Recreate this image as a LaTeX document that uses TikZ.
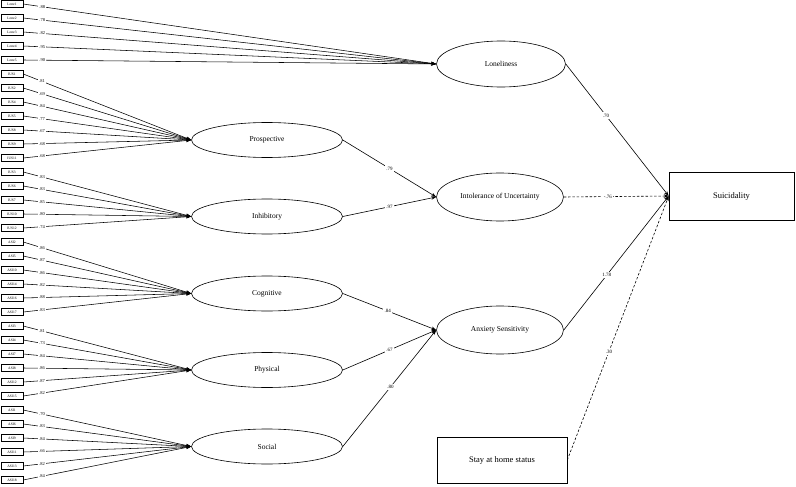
\documentclass[tikz,border=0pt]{standalone}
\usepackage{fontspec}
\setmainfont{Liberation Serif}
\usetikzlibrary{shapes.geometric,arrows.meta}
\tikzset{
  ind/.style={draw, line width=0.5pt, minimum width=22pt, minimum height=7pt, inner sep=0pt, font=\fontsize{3.6}{4}\selectfont},
  lat/.style={draw, ellipse, line width=0.6pt, inner sep=0pt, font=\fontsize{7.5}{9}\selectfont},
  obs/.style={draw, rectangle, line width=0.6pt, inner sep=0pt, font=\fontsize{8.5}{10}\selectfont},
  iline/.style={line width=0.55pt, -{Stealth[length=5pt,width=3.5pt]}},
  sline/.style={line width=0.6pt, -{Stealth[length=5pt,width=3.5pt]}},
  dline/.style={line width=0.6pt, dash pattern=on 2.5pt off 1.8pt, -{Stealth[length=5pt,width=3.5pt]}},
  load/.style={fill=white, inner sep=1pt, font=\fontsize{4.5}{5}\selectfont},
  coef/.style={fill=white, inner sep=1.5pt, font=\fontsize{5}{6}\selectfont}
}
\begin{document}
\begin{tikzpicture}[x=1pt, y=-1pt]
\useasboundingbox (0,0) rectangle (796,487);
% latent variables
\node[lat, minimum width=129pt, minimum height=46pt] (lone) at (501,64) {Loneliness};
\node[lat, minimum width=151pt, minimum height=35pt] (pro) at (267,140) {Prospective};
\node[lat, minimum width=151pt, minimum height=35pt] (inh) at (267,216.5) {Inhibitory};
\node[lat, minimum width=127pt, minimum height=48pt] (iu) at (500,197) {Intolerance of Uncertainty};
\node[lat, minimum width=151pt, minimum height=35pt] (cog) at (267,293.5) {Cognitive};
\node[lat, minimum width=151pt, minimum height=35pt] (phy) at (267,370) {Physical};
\node[lat, minimum width=151pt, minimum height=35pt] (soc) at (267,446.5) {Social};
\node[lat, minimum width=127pt, minimum height=48pt] (as) at (500,330) {Anxiety Sensitivity};
% observed
\node[obs, minimum width=125pt, minimum height=48pt] (sui) at (731.5,196) {Suicidality};
\node[obs, minimum width=130pt, minimum height=46pt] (stay) at (502,460) {Stay at home status};
% indicators of loneliness
\foreach \n/\t/\yy/\l in {L1/Lone1/4/.88, L2/Lone2/18/.78, L3/Lone3/32/.82, L4/Lone4/46/.95, L5/Lone5/60/.90}{
  \node[ind] (\n) at (12,\yy) {\t};
  \draw[iline] (\n.east) -- node[load, pos=0.046] {\l} (lone.west);
}
\foreach \n/\t/\yy/\l in {P1/IUS1/74/.81, P2/IUS2/88/.69, P4/IUS4/102/.84, P5/IUS5/116/.77, P8/IUS8/130/.67, P9/IUS9/144/.68, P11/IUS11/158/.68}{
  \node[ind] (\n) at (12,\yy) {\t};
  \draw[iline] (\n.east) -- node[load, pos=0.112] {\l} (pro.west);
}
\foreach \n/\t/\yy/\l in {I3/IUS3/172/.83, I6/IUS6/186/.83, I7/IUS7/200/.85, I10/IUS10/214/.80, I12/IUS12/228/.74}{
  \node[ind] (\n) at (12,\yy) {\t};
  \draw[iline] (\n.east) -- node[load, pos=0.112] {\l} (inh.west);
}
\foreach \n/\t/\yy/\l in {C2/ASI2/242/.86, C5/ASI5/256/.87, C10/ASI10/270/.86, C14/ASI14/284/.82, C16/ASI16/298/.88, C17/ASI17/312/.83}{
  \node[ind] (\n) at (12,\yy) {\t};
  \draw[iline] (\n.east) -- node[load, pos=0.112] {\l} (cog.west);
}
\foreach \n/\t/\yy/\l in {F3/ASI3/326/.81, F4/ASI4/340/.73, F7/ASI7/354/.84, F8/ASI8/368/.86, F12/ASI12/382/.87, F15/ASI15/396/.82}{
  \node[ind] (\n) at (12,\yy) {\t};
  \draw[iline] (\n.east) -- node[load, pos=0.112] {\l} (phy.west);
}
\foreach \n/\t/\yy/\l in {S1/ASI1/410/.70, S6/ASI6/424/.83, S9/ASI9/438/.84, S11/ASI11/452/.66, S13/ASI13/466/.82, S18/ASI18/480/.84}{
  \node[ind] (\n) at (12,\yy) {\t};
  \draw[iline] (\n.east) -- node[load, pos=0.112] {\l} (soc.west);
}
% structural paths
\draw[sline] (pro.east) -- node[coef, pos=0.5] {.79} (iu.west);
\draw[sline] (inh.east) -- node[coef, pos=0.5] {.97} (iu.west);
\draw[sline] (cog.east) -- node[coef, pos=0.48] {.84} (as.west);
\draw[sline] (phy.east) -- node[coef, pos=0.5] {.67} (as.west);
\draw[sline] (soc.east) -- node[coef, pos=0.51] {.80} (as.west);
\draw[sline] (lone.east) -- node[coef, pos=0.39] {.70} (sui.west);
\draw[dline] (iu.east) -- node[coef, pos=0.42] {-.76} (sui.west);
\draw[sline] (as.east) -- node[coef, pos=0.41] {1.78} (sui.west);
\draw[dline] (stay.east) -- node[coef, pos=0.41] {.30} (sui.west);
\end{tikzpicture}
\end{document}
